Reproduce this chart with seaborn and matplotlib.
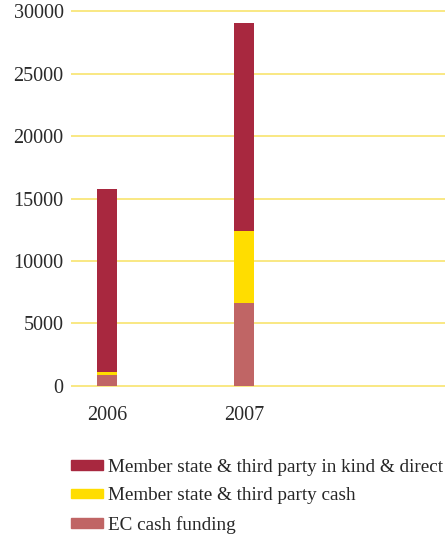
import matplotlib
matplotlib.use("Agg")
import matplotlib.pyplot as plt
import seaborn as sns
import pandas as pd
import numpy as np
from matplotlib.patches import Patch

years = ["2006", "2007"]
ec_cash = [850, 6630]
ms_cash = [270, 5770]
ms_in_kind = [14640, 16660]
series_names = ["Member state & third party in kind & direct",
                "Member state & third party cash",
                "EC cash funding"]
yticks = [0, 5000, 10000, 15000, 20000, 25000, 30000]

col_kind = "#A8283F"
col_cash = "#FFDD00"
col_ec = "#C06565"
grid_col = "#F8E162"

sns.set_theme(style="white")
plt.rcParams['font.family'] = ['Liberation Serif', 'DejaVu Serif']

fig = plt.figure(figsize=(4.45, 5.36), dpi=100)
ax = fig.add_axes([0.16, 0.2757, 0.84, 0.9836 - 0.2757])

df = pd.DataFrame({"year": years, "ec": ec_cash, "cash": ms_cash, "kind": ms_in_kind})
df["c2"] = df["ec"] + df["cash"]
df["c3"] = df["c2"] + df["kind"]

w = 0.146
sns.barplot(data=df, x="year", y="c3", color=col_kind, width=w, ax=ax, saturation=1)
sns.barplot(data=df, x="year", y="c2", color=col_cash, width=w, ax=ax, saturation=1)
sns.barplot(data=df, x="year", y="ec", color=col_ec, width=w, ax=ax, saturation=1)
for p in ax.patches:
    p.set_linewidth(0)
    p.set_zorder(3)

ax.set_ylim(-200, 30200)
ax.set_xlim(-0.263, -0.263 + 374 / 137)
ax.set_yticks(yticks)
ax.set_yticklabels([str(v) for v in yticks])
for v in yticks:
    ax.axhline(v, color=grid_col, lw=1.1, zorder=1)
for s in ax.spines.values():
    s.set_visible(False)
ax.set_xlabel("")
ax.set_ylabel("")
ax.tick_params(axis="y", length=0, pad=5.5, labelsize=14.5, colors="#2a2a2a")
ax.tick_params(axis="x", length=0, pad=13, labelsize=14.5, colors="#2a2a2a")

handles = [Patch(color=col_kind), Patch(color=col_cash), Patch(color=col_ec)]
fig.legend(handles, series_names, loc="upper left", bbox_to_anchor=(0.16, 0.144),
           frameon=False, borderpad=0, borderaxespad=0, fontsize=13.8,
           handlelength=1.67, handleheight=0.42, handletextpad=0.26, labelspacing=0.6)

fig.savefig("out.png", dpi=100)
